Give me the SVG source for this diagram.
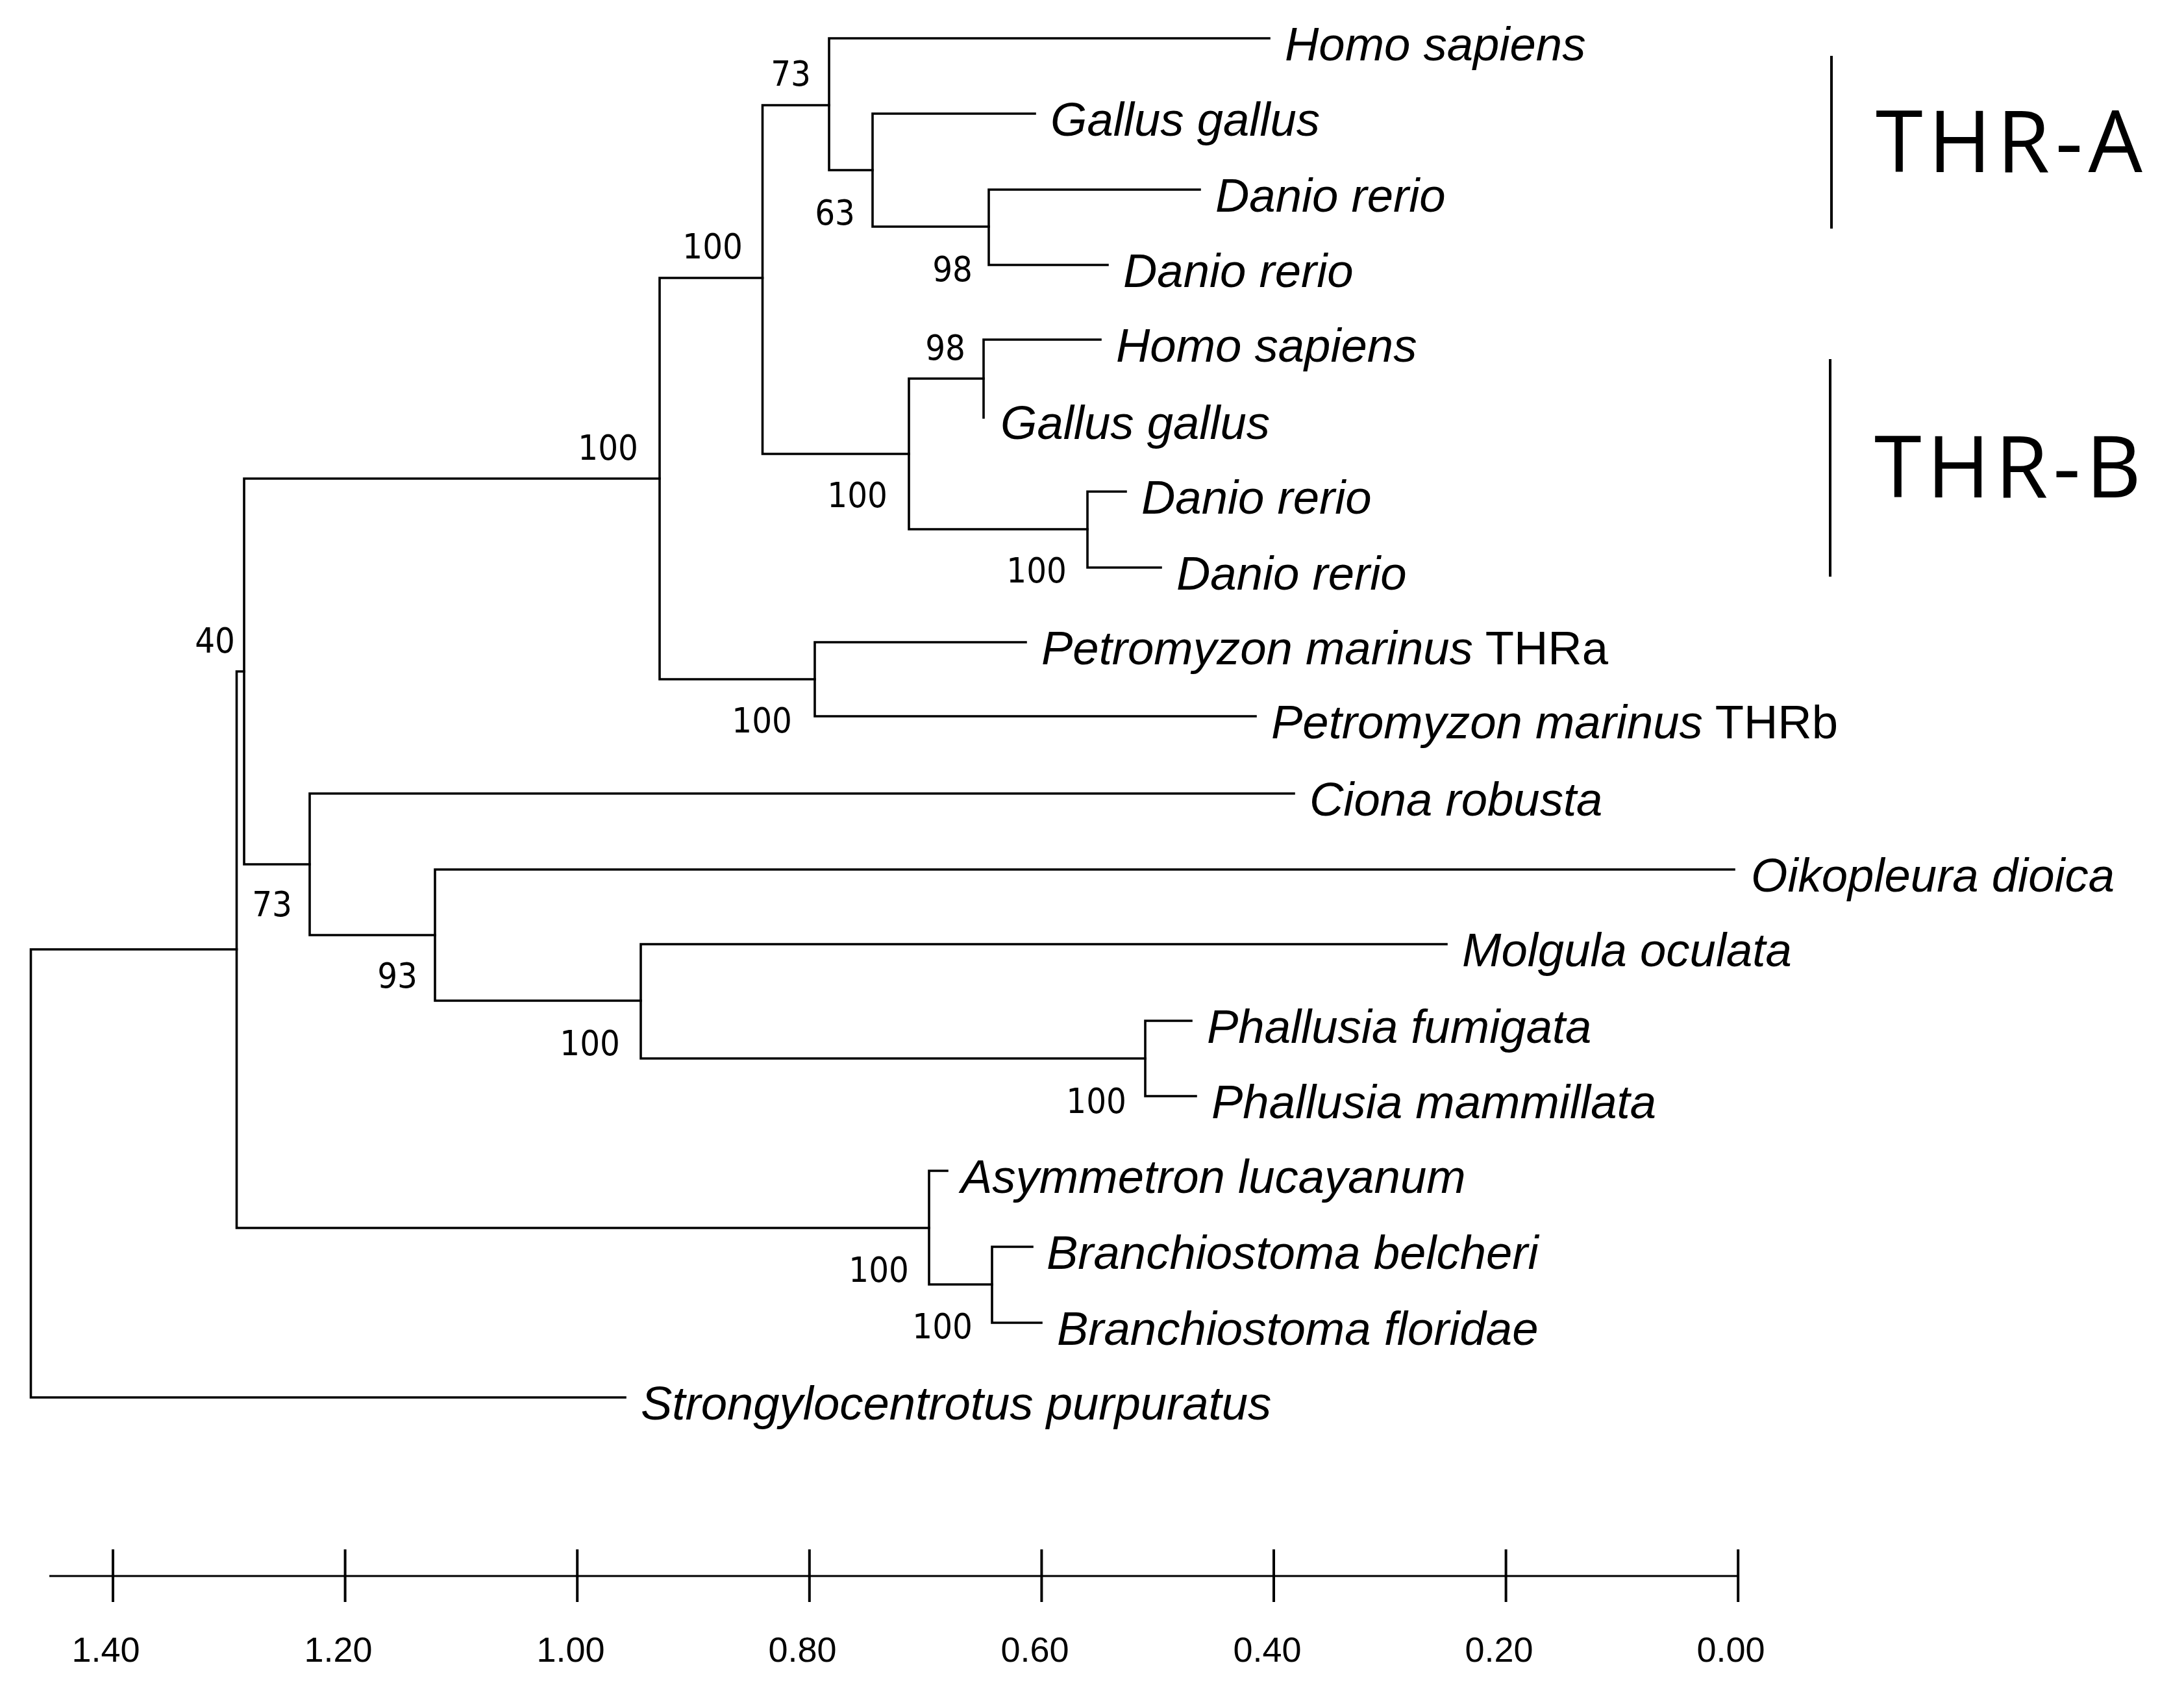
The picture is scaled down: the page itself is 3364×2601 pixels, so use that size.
<svg xmlns="http://www.w3.org/2000/svg" width="3364" height="2601" viewBox="0 0 3364 2601">
<style>
.br{fill:none;stroke:#000;stroke-width:3.6;stroke-linejoin:miter;stroke-linecap:square}
.tx{font-family:"Liberation Sans",Arial,sans-serif;font-size:72.5px;font-style:italic;fill:#000}
.up{font-style:normal}
.bs{font-family:"DejaVu Sans Condensed","DejaVu Sans",sans-serif;font-stretch:condensed;font-size:54px;fill:#000;text-anchor:end}
.sc{font-family:"Liberation Sans",Arial,sans-serif;font-size:54px;fill:#000;text-anchor:middle}
.grp{font-family:"Open Sans","Noto Sans",sans-serif;font-size:132px;fill:#000}
.bar{stroke:#000;stroke-width:4;fill:none}
.ax{stroke:#000;stroke-width:3;fill:none}
.tk{stroke:#000;stroke-width:4;fill:none}
</style>
<rect width="3364" height="2601" fill="#fff"/>
<g id="connectors">
<path class="br" d="M364.5 1462 H47.5 V2152 H963"/>
<path class="br" d="M376 1034 H364.5 V1891 H1431"/>
<path class="br" d="M1016 737 H376 V1331 H477"/>
<path class="br" d="M1174.5 428 H1016 V1046 H1255"/>
<path class="br" d="M1277 162 H1174.5 V699 H1400"/>
<path class="br" d="M1955 59 H1277 V262 H1344"/>
<path class="br" d="M1594 175 H1344 V349 H1523"/>
<path class="br" d="M1848 292 H1523 V408 H1706"/>
<path class="br" d="M1515 583 H1400 V815 H1675"/>
<path class="br" d="M1695 523 H1515 V643"/>
<path class="br" d="M1734 757 H1675 V874 H1788"/>
<path class="br" d="M1580 989 H1255 V1103 H1934"/>
<path class="br" d="M1993 1222 H477 V1440 H670"/>
<path class="br" d="M2671 1339 H670 V1541 H987"/>
<path class="br" d="M2228 1454 H987 V1630 H1764"/>
<path class="br" d="M1835 1572 H1764 V1688 H1842"/>
<path class="br" d="M1459 1803 H1431 V1978 H1528"/>
<path class="br" d="M1590 1920 H1528 V2037 H1604"/>
</g>
<g id="bootstrap">
<g id="n-A"><text class="bs" x="362" y="1005">40</text></g>
<g id="n-C"><text class="bs" x="983" y="708">100</text></g>
<g id="n-D"><text class="bs" x="450" y="1411">73</text></g>
<g id="n-E"><text class="bs" x="1144" y="398">100</text></g>
<g id="n-P"><text class="bs" x="1220" y="1128">100</text></g>
<g id="n-F"><text class="bs" x="1249" y="132">73</text></g>
<g id="n-G"><text class="bs" x="1367" y="781">100</text></g>
<g id="n-H"><text class="bs" x="1317" y="346">63</text></g>
<g id="n-I"><text class="bs" x="1498" y="433">98</text></g>
<g id="n-J"><text class="bs" x="1487" y="554">98</text></g>
<g id="n-K"><text class="bs" x="1643" y="897">100</text></g>
<g id="n-L"><text class="bs" x="643" y="1521">93</text></g>
<g id="n-M"><text class="bs" x="955" y="1625">100</text></g>
<g id="n-N"><text class="bs" x="1735" y="1714">100</text></g>
<g id="n-O"><text class="bs" x="1400" y="1974">100</text></g>
<g id="n-Pb"><text class="bs" x="1498" y="2061">100</text></g>
</g>
<g id="taxa">
<g id="t-homo-a"><text class="tx" x="1979" y="93">Homo sapiens</text></g>
<g id="t-gallus-a"><text class="tx" x="1618" y="209">Gallus gallus</text></g>
<g id="t-danio-a1"><text class="tx" x="1872" y="326">Danio rerio</text></g>
<g id="t-danio-a2"><text class="tx" x="1730" y="442">Danio rerio</text></g>
<g id="t-homo-b"><text class="tx" x="1719" y="557">Homo sapiens</text></g>
<g id="t-gallus-b"><text class="tx" x="1541" y="676">Gallus gallus</text></g>
<g id="t-danio-b1"><text class="tx" x="1758" y="791">Danio rerio</text></g>
<g id="t-danio-b2"><text class="tx" x="1812" y="908">Danio rerio</text></g>
<g id="t-petro-a"><text class="tx" x="1604" y="1023">Petromyzon marinus<tspan class="up"> THRa</tspan></text></g>
<g id="t-petro-b"><text class="tx" x="1958" y="1137">Petromyzon marinus<tspan class="up"> THRb</tspan></text></g>
<g id="t-ciona"><text class="tx" x="2017" y="1256">Ciona robusta</text></g>
<g id="t-oiko"><text class="tx" x="2697" y="1373">Oikopleura dioica</text></g>
<g id="t-molgula"><text class="tx" x="2252" y="1488">Molgula oculata</text></g>
<g id="t-pfum"><text class="tx" x="1859" y="1606">Phallusia fumigata</text></g>
<g id="t-pmam"><text class="tx" x="1866" y="1722">Phallusia mammillata</text></g>
<g id="t-asym"><text class="tx" x="1480" y="1837">Asymmetron lucayanum</text></g>
<g id="t-bbel"><text class="tx" x="1612" y="1954">Branchiostoma belcheri</text></g>
<g id="t-bflo"><text class="tx" x="1628" y="2071">Branchiostoma floridae</text></g>
<g id="t-strongy"><text class="tx" x="987" y="2186">Strongylocentrotus purpuratus</text></g>
</g>
<g id="group-thr-a">
<line class="bar" x1="2821" y1="86" x2="2821" y2="352"/>
<text class="grp" x="2889" y="265" textLength="411" lengthAdjust="spacing">THR-A</text>
</g>
<g id="group-thr-b">
<line class="bar" x1="2819" y1="553" x2="2819" y2="888"/>
<text class="grp" x="2887" y="766" textLength="411" lengthAdjust="spacing">THR-B</text>
</g>
<g id="scale">
<line class="ax" x1="76" y1="2427" x2="2678" y2="2427"/>
<line class="tk" x1="174" y1="2386" x2="174" y2="2467"/>
<line class="tk" x1="531.6" y1="2386" x2="531.6" y2="2467"/>
<line class="tk" x1="889.2" y1="2386" x2="889.2" y2="2467"/>
<line class="tk" x1="1246.8" y1="2386" x2="1246.8" y2="2467"/>
<line class="tk" x1="1604.4" y1="2386" x2="1604.4" y2="2467"/>
<line class="tk" x1="1962" y1="2386" x2="1962" y2="2467"/>
<line class="tk" x1="2319.6" y1="2386" x2="2319.6" y2="2467"/>
<line class="tk" x1="2677.2" y1="2386" x2="2677.2" y2="2467"/>
<text class="sc" x="163" y="2559">1.40</text>
<text class="sc" x="521" y="2559">1.20</text>
<text class="sc" x="879" y="2559">1.00</text>
<text class="sc" x="1236" y="2559">0.80</text>
<text class="sc" x="1594" y="2559">0.60</text>
<text class="sc" x="1952" y="2559">0.40</text>
<text class="sc" x="2309" y="2559">0.20</text>
<text class="sc" x="2666" y="2559">0.00</text>
</g>
</svg>
